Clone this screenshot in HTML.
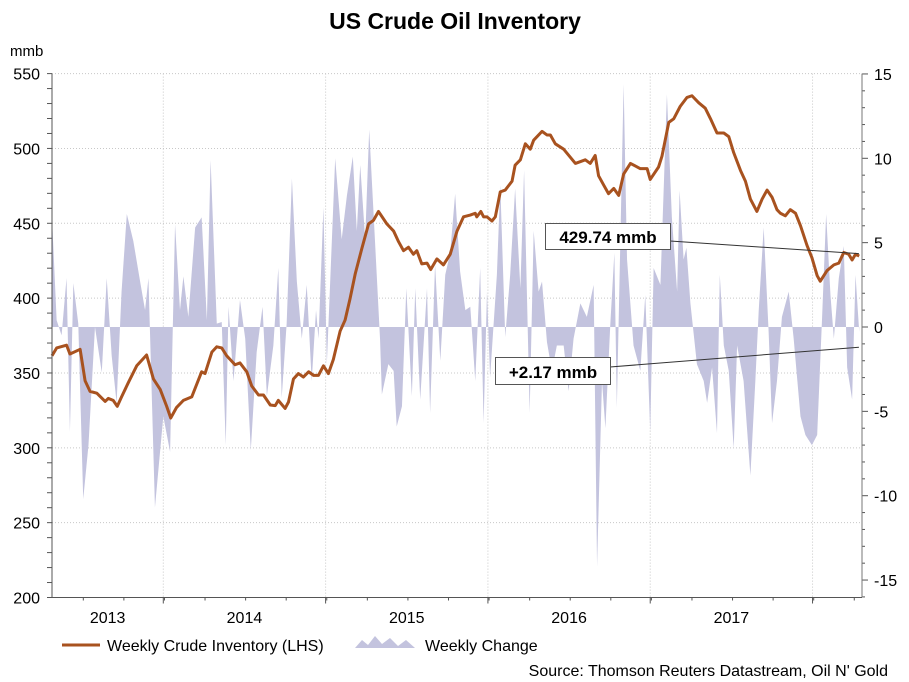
<!DOCTYPE html>
<html><head><meta charset="utf-8"><style>
body{margin:0;background:#fff;}
svg{display:block;font-family:"Liberation Sans",Arial,sans-serif;}
</style></head><body>
<svg id="chart" width="909" height="682">
<rect width="909" height="682" fill="#fff"/>
<text x="455" y="29" text-anchor="middle" font-size="23" font-weight="bold">US Crude Oil Inventory</text>
<text x="10" y="56" font-size="15">mmb</text>
<g id="grid"></g>
<g id="area"></g>
<g id="line"></g>
<g id="axes"></g>
<g id="annot"></g>
<g>
<line x1="62" y1="645" x2="100" y2="645" stroke="#a8521f" stroke-width="3"/>
<text x="107" y="651" font-size="16">Weekly Crude Inventory (LHS)</text>
<polygon points="355,648 362,640 368,645 375,636 382,644 390,638 398,646 406,640 415,648" fill="#c3c3de"/>
<text x="425" y="651" font-size="16">Weekly Change</text>
</g>
<text x="888" y="676" text-anchor="end" font-size="16">Source: Thomson Reuters Datastream, Oil N' Gold</text>
</svg>
<script>
const invWeeks=[0,1.5,4.7,5.8,9.1,10.7,12.3,14.5,17.2,18.2,19.8,21.1,22.5,24.7,27.4,30.6,32.8,35,37.1,38.4,40.3,42.5,45.2,48.4,49.5,51.7,53.3,54.9,56.5,59.2,60.8,63,64.6,66.8,68.4,70.6,72.2,73.2,75.4,76.5,78.1,79.7,81.3,83,84.6,86.2,87.8,89.4,91,93.2,94.8,96.4,98.1,100.2,102.4,104,105.6,108.3,110.5,112.1,113.7,115.3,116.9,118,119.6,121.3,122.5,124.5,126.6,128.8,131,133.1,135.3,136.9,137.4,138.7,139.6,140.7,142.3,143.4,145,146.6,148.8,149.8,151.5,153.1,154.7,155.8,158.5,160.1,161.2,162.8,165.5,169.3,172.5,174.1,175.7,176.8,178.4,180,181.7,183.3,184.9,187.1,190.3,192.5,193.5,196.2,197.3,199.5,201.1,203.2,205.4,207,209.2,211.3,213,215.1,217.3,218.9,220.5,222.7,224.3,225.9,228,229.7,231.3,232.9,234.5,235.6,237.2,238.8,240.5,242.1,244.2,245.8,247.5,248.5,250.7,252.9,254.5,256.1,257.7,258.8,259.9,261.1];
const invValues=[361.5,366.7,368.6,362.7,365.8,344.8,337.7,336.5,331,333,331.7,327.7,334,343.6,354.8,362,346,339,327.7,319.9,327,331.7,334,350.8,349.6,363.9,367.5,366.7,361.5,355.5,356.7,350.8,341.3,335.3,335.3,328.6,328.2,331.7,326.3,330.6,346,349.6,347.3,350.8,348.4,348.4,354.8,349.6,359,378,385.3,399.6,416.4,433,449.6,452,457.9,449.6,444.8,437.7,431.7,434,429.3,431.7,422.9,423.4,419.1,426.2,422.2,429.3,444.8,454.3,455.5,456.7,454.3,457.9,454.3,454.3,451.5,454.3,471,472.2,478.1,488.8,492.4,503.1,499.5,505.5,511.4,509,509,503.1,499.5,490,492.4,490,495.3,481.7,475.7,469.8,473.3,468.6,482.9,490,486.5,486.5,479.3,487.6,494.8,517.4,519.8,528.1,534.1,535.2,530.5,526.9,519.8,510.3,510.3,507.9,497.2,485.3,478.1,466.2,457.9,466.2,472.2,467.4,459.1,456.7,455,459.1,456.7,448.4,435.3,427,415,411.3,418.4,422.2,423.4,430.5,429.3,425.5,429.3,428.1];
const chgWeeks=[0,1.5,3.1,4.7,5.8,6.9,8.5,10.1,11.8,13.9,16.1,17.7,19.3,20.9,22.5,24.2,26.3,28.5,30.1,31.2,33.3,36,38.2,39.8,41.4,42.5,44.1,46.3,48.4,50.1,51.3,53.3,54.9,56.2,57.1,58.7,60.8,62.5,64.3,66.2,68.1,69.5,71.6,73.2,74.3,75.9,77.6,79.2,80.8,82.4,84,85.4,86.2,87.8,88.9,91.6,93.7,95.4,97.3,98.6,99.7,101.3,102.6,104.5,106.1,106.7,108.8,110.5,111.5,113.2,114.6,116.4,117.5,119.1,121.3,122.3,123.9,125.6,127.2,128.8,130.4,132,133.7,135.3,136.9,138.5,139.6,140.7,141.7,143.9,145,146.6,148.2,149.8,151.5,152.7,154.5,155.8,157.4,158.5,160.1,161.7,163.3,165.5,167.1,168.7,170.9,173,175.2,176.3,177.9,179,180.6,181.9,182.7,184.9,186,188.1,190.3,191.9,193.5,194.6,196.8,198.9,200.5,202.2,203,204.3,205.2,206.5,208.6,210.8,211.9,213.5,215.1,216,217.3,218.9,220.5,221.6,223.7,225.9,227.5,228.6,230.2,231.8,232.9,234.5,236.1,238.3,239.9,242.1,243.7,245.8,247.5,249.1,250.4,251.8,252.9,254.5,256.1,257.2,258.8,259.9,261.1];
const chgValues=[6.5,0.4,-0.5,2.9,-6.2,2.6,0.2,-10.2,-7,0,-2.7,2.9,-1.7,-4.5,2.1,6.7,5.1,2.7,1,2.9,-10.7,-5.3,-7.4,6.1,1,3,0.6,5.9,6.5,0.4,9.9,0.2,0.3,-7,1.2,-3.2,1.6,-0.7,-7.3,-1.5,1.2,-4.1,-1.1,3.5,-4.2,0.2,8.8,2.7,-0.7,2.5,-3.2,1,-0.7,7.1,-2.2,10,5.2,7.8,10.1,5.7,9.6,5.2,11.7,5,-0.7,-4,-2.2,-2.6,-5.9,-4.7,2.3,-4.1,2.3,-4.3,2.3,-5.1,3.7,-2,3.1,4.4,7.9,3.3,1,1.2,-3.2,3.5,-5.7,2.1,-3,3.1,8.4,-0.6,3.1,8.2,2.3,9.3,-5.1,5.7,2.1,2.7,-0.9,-2.6,-1.1,-1.1,-3.8,-0.7,1.4,0.6,2.5,-14.2,-3.2,-6,0.2,4.4,-4.8,14.4,4,-1.1,-2.6,1.9,-6.2,3.5,2.5,13.8,6.5,2.1,8.1,4,4.7,1.4,-2.2,-3.2,-4.5,-2.4,-6.3,3.1,-1.1,-2.6,-7.2,-1.1,-3.2,-8.8,-3.2,1,5.9,-0.3,-5.7,-3.2,0.6,2.1,-0.7,-5.3,-6.4,-7,-6.4,0.6,6.7,1.9,-0.7,2.9,4.8,-2.4,-4.3,3.1,-0.3];
const leftTicks=[550,500,450,400,350,300,250,200];
const rightTicks=[15,10,5,0,-5,-10,-15];
const yearLabels=["2013","2014","2015","2016","2017"];
const yearBoundaryWeeks=[36,88.5,141,193.5,246];

const NS="http://www.w3.org/2000/svg";
const X0=52,X1=862,Y0=73.6,Y1=597.5,WEEKS=262;
const xScale=w=>X0+w*(X1-X0)/WEEKS;
const yL=v=>Y0+(550-v)*(Y1-Y0)/350;
const yR=v=>327+(0-v)*16.87;
function mk(tag,attrs,parent){const e=document.createElementNS(NS,tag);for(const k in attrs)e.setAttribute(k,attrs[k]);parent.appendChild(e);return e;}
const grid=document.getElementById('grid'),axes=document.getElementById('axes');
leftTicks.forEach(v=>{
  const g=mk('line',{x1:X0,x2:X1,y1:yL(v),y2:yL(v),stroke:'#c8c8c8','stroke-dasharray':'1,2'},grid);
  
  
  const t=mk('text',{x:40,y:yL(v)+6,'text-anchor':'end','font-size':16},axes);
  t.textContent=v;
  
  
});
for(let v=200;v<=550;v+=10){mk('line',{x1:X0-5,x2:X0,y1:yL(v),y2:yL(v),stroke:'#555'},axes);}
rightTicks.forEach(v=>{
  const t=mk('text',{x:874,y:yR(v)+6,'font-size':16},axes);
  t.textContent=v;
  
  
});
for(let v=-16;v<=15;v++){mk('line',{x1:X1,x2:X1+(v%5===0?6:3),y1:yR(v),y2:yR(v),stroke:'#555'},axes);}
yearBoundaryWeeks.forEach((w,i)=>{
  const g=mk('line',{x1:xScale(w),x2:xScale(w),y1:Y0,y2:Y1,stroke:'#c8c8c8','stroke-dasharray':'1,2'},grid);
  
  
  mk('line',{x1:xScale(w),x2:xScale(w),y1:Y1,y2:Y1+6,stroke:'#555'},axes);
});
for(let q=0;q<21;q++){const w=36-3*13+q*13.125;if(w>0&&w<WEEKS)mk('line',{x1:xScale(w),x2:xScale(w),y1:Y1,y2:Y1+3,stroke:'#555'},axes);}
const edges=[0].concat(yearBoundaryWeeks).concat([WEEKS]);
yearLabels.forEach((lab,i)=>{
  const t=mk('text',{x:(xScale(edges[i])+xScale(edges[i+1]))/2,y:623,'text-anchor':'middle','font-size':16},axes);
  t.textContent=lab;
  
  
});
mk('line',{x1:X0,x2:X0,y1:Y0,y2:Y1,stroke:'#555'},axes);
mk('line',{x1:X1,x2:X1,y1:Y0,y2:Y1,stroke:'#777'},axes);
mk('line',{x1:X0,x2:X1,y1:Y1,y2:Y1,stroke:'#555'},axes);
let pts=[xScale(chgWeeks[0])+','+yR(0)];
chgWeeks.forEach((w,i)=>pts.push(xScale(w)+','+yR(chgValues[i])));
pts.push(xScale(chgWeeks[chgWeeks.length-1])+','+yR(0));
const area=mk('polygon',{points:pts.join(' '),fill:'#c3c3de'},document.getElementById('area'));


const lp=invWeeks.map((w,i)=>xScale(w)+','+yL(invValues[i])).join(' ');
const line=mk('polyline',{points:lp,fill:'none',stroke:'#a8521f','stroke-width':3,'stroke-linejoin':'round'},document.getElementById('line'));


const an=document.getElementById('annot');
mk('line',{x1:670,y1:241,x2:xScale(261),y2:yL(429.74),stroke:'#333','stroke-width':1},an);
mk('line',{x1:610,y1:367,x2:xScale(261),y2:yR(-1.2),stroke:'#333','stroke-width':1},an);
const b1=mk('rect',{x:545.5,y:223.5,width:125,height:26,fill:'#fff',stroke:'#555'},an);


const t1=mk('text',{x:608,y:243,'text-anchor':'middle','font-size':17,'font-weight':'bold'},an);t1.textContent='429.74 mmb';


const b2=mk('rect',{x:495.5,y:357.5,width:115,height:27,fill:'#fff',stroke:'#555'},an);


const t2=mk('text',{x:553,y:378,'text-anchor':'middle','font-size':17,'font-weight':'bold'},an);t2.textContent='+2.17 mmb';


</script>
</body></html>
